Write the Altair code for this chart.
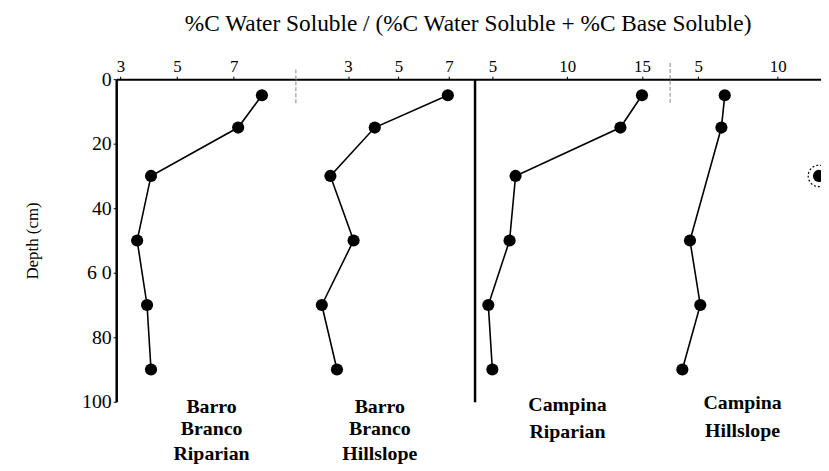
import altair as alt
import pandas as pd

# ---- data ----
depths = [5, 15, 30, 50, 70, 90]
bb_riparian = [8.0, 7.16, 4.08, 3.59, 3.94, 4.08]
bb_hillslope = [6.96, 4.06, 2.30, 3.22, 1.96, 2.56]
ca_riparian = [15.0, 13.56, 6.55, 6.15, 4.73, 5.0]
ca_hill_depths = [5, 15, 50, 70, 90]
ca_hillslope = [6.67, 6.46, 4.48, 5.13, 4.0]
outlier_depth = [30]
outlier_value = [12.6]

x_ticks_1 = [3, 5, 7]
x_ticks_2 = [3, 5, 7]
x_ticks_3 = [5, 10, 15]
x_ticks_4 = [5, 10]
y_ticks = [0, 20, 40, 60, 80, 100]

names_1 = ["Barro", "Branco", "Riparian"]
names_2 = ["Barro", "Branco", "Hillslope"]
names_3 = ["Campina", "Riparian"]
names_4 = ["Campina", "Hillslope"]

TITLE = "%C Water Soluble / (%C Water Soluble + %C Base Soluble)"
FONT = "Liberation Serif"
H = 325


def panel(values, dlist, domain, ticks, width, names, label_x, label_depths,
          yaxis_kind=None, sep=None, outlier=None):
    xaxis = alt.Axis(orient="top", values=ticks, title=None, grid=False,
                     labelFont=FONT, labelFontSize=17, labelColor="black",
                     labelPadding=1, tickSize=3, tickColor="black",
                     domainColor="black", domainWidth=2, labelFlush=False)
    if yaxis_kind == "full":
        yaxis = alt.Axis(orient="left", values=y_ticks, title="Depth (cm)",
                         labelExpr="datum.value == 60 ? '6 0' : datum.label",
                         titleFont=FONT, titleFontSize=17, titleFontWeight="normal",
                         titleColor="black", titlePadding=40,
                         labelFont=FONT, labelFontSize=20, labelColor="black",
                         labelPadding=2, tickSize=3, tickColor="black",
                         domainColor="black", domainWidth=2.5, grid=False)
    elif yaxis_kind == "line":
        yaxis = alt.Axis(orient="left", labels=False, ticks=False, title=None,
                         domainColor="black", domainWidth=2.5, grid=False)
    else:
        yaxis = None

    xs = alt.Scale(domain=domain, nice=False, zero=False)
    ys = alt.Scale(domain=[0, 100], reverse=True, nice=False, zero=False)

    def X():
        return alt.X("v:Q", scale=xs, axis=xaxis)

    def Y():
        return alt.Y("depth:Q", scale=ys, axis=yaxis)

    df = pd.DataFrame({"v": values, "depth": dlist})
    base = alt.Chart(df).encode(x=X(), y=Y())
    layers = [
        base.mark_line(color="black", strokeWidth=1.6).encode(order="depth:Q"),
        base.mark_circle(size=150, color="black", opacity=1),
    ]
    if sep is not None:
        sdf = pd.DataFrame({"v": [sep[0]], "depth": [sep[1]], "depth2": [sep[2]]})
        layers.append(
            alt.Chart(sdf).mark_rule(color="#9a9a9a", strokeWidth=1.2,
                                     strokeDash=[4, 2])
            .encode(x=X(), y=Y(), y2="depth2:Q"))
    if outlier is not None:
        odf = pd.DataFrame({"v": outlier[0], "depth": outlier[1]})
        ob = alt.Chart(odf).encode(x=X(), y=Y())
        layers.append(ob.mark_circle(size=150, color="black", opacity=1, clip=True))
        layers.append(ob.mark_point(size=470, shape="circle", filled=False,
                                    color="black", strokeWidth=1.2,
                                    strokeDash=[2, 2], opacity=1, clip=True))
    tdf = pd.DataFrame({"v": [label_x] * len(names), "depth": label_depths,
                        "t": names})
    layers.append(
        alt.Chart(tdf).mark_text(font=FONT, fontSize=20, fontWeight="bold",
                                 color="black", align="center",
                                 baseline="middle")
        .encode(x=X(), y=Y(), text="t:N"))
    return alt.layer(*layers).properties(width=width, height=H)


p1 = panel(bb_riparian, depths, [2.85, 9.20], x_ticks_1, 181, names_1, 6.22,
           [101.5, 108.6, 116.3], yaxis_kind="full")
p2 = panel(bb_hillslope, depths, [0.93, 8.02], x_ticks_2, 180, names_2, 4.26,
           [101.5, 108.6, 116.3], sep=(0.93, -3, 7.5))
p3 = panel(ca_riparian, depths, [3.81, 16.88], x_ticks_3, 197, names_3, 10.02,
           [100.9, 109.5], yaxis_kind="line")
p4 = panel(ca_hillslope, ca_hill_depths, [3.23, 12.73], x_ticks_4, 152, names_4,
           7.79, [100.3, 109.2], sep=(3.23, -5, 7.7),
           outlier=(outlier_value, outlier_depth))

chart = alt.hconcat(p1, p2, p3, p4, spacing=0, bounds="flush").properties(
    title=alt.TitleParams(TITLE, font=FONT, fontSize=23.5, fontWeight="normal",
                          color="black", anchor="middle", offset=22, dx=46),
    padding={"left": 16, "top": 2, "right": 0, "bottom": 0},
    background="white",
).configure(font=FONT).configure_view(stroke=None).configure_title(
    font=FONT, fontWeight="normal")

chart.save("out.html", embed_options={"renderer": "svg", "actions": False})
